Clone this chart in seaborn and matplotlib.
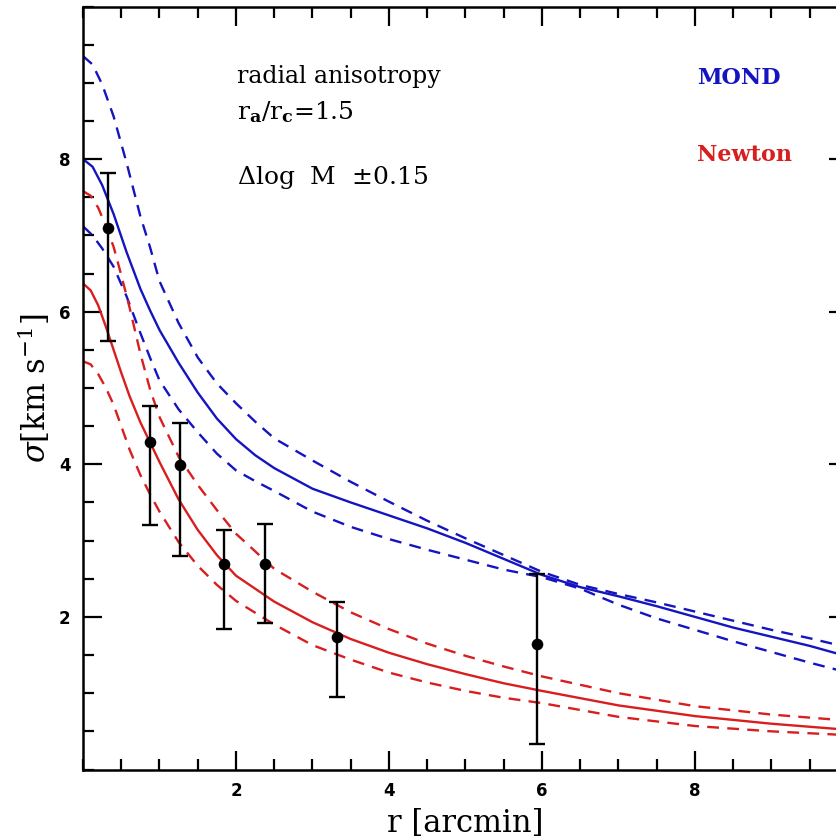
import numpy as np
import pandas as pd
import matplotlib
matplotlib.use("Agg")
import matplotlib.pyplot as plt
import seaborn as sns
from matplotlib.ticker import MultipleLocator, FixedLocator

# ---- data ----
obs_r = [0.33, 0.88, 1.27, 1.84, 2.38, 3.32, 5.94]
obs_sigma = [7.10, 4.29, 3.99, 2.69, 2.69, 1.74, 1.65]
obs_err_lo = [1.49, 1.08, 1.19, 0.85, 0.77, 0.79, 1.32]
obs_err_hi = [0.72, 0.48, 0.55, 0.45, 0.53, 0.45, 0.91]

mond_r = [0.0, 0.125, 0.25, 0.4, 0.57, 0.75, 0.875, 1.0, 1.25, 1.5, 1.75, 2.0, 2.25, 2.5, 3.0,
          3.5, 4.0, 4.5, 5.0, 5.5, 6.0, 6.5, 7.0, 7.5, 8.0, 8.5, 9.0, 9.5, 10.0]
mond_mid = [8.00, 7.90, 7.66, 7.28, 6.78, 6.30, 6.02, 5.76, 5.33, 4.94, 4.60, 4.33, 4.12, 3.95,
            3.68, 3.50, 3.33, 3.16, 2.97, 2.76, 2.55, 2.39, 2.27, 2.14, 2.00, 1.86, 1.74, 1.62, 1.48]
mond_hi = [9.35, 9.24, 8.98, 8.56, 7.95, 7.25, 6.85, 6.40, 5.85, 5.40, 5.06, 4.80, 4.56, 4.34,
           4.05, 3.77, 3.51, 3.26, 3.03, 2.81, 2.59, 2.42, 2.30, 2.19, 2.07, 1.95, 1.83, 1.72, 1.60]
mond_lo = [7.12, 7.00, 6.83, 6.59, 6.20, 5.72, 5.40, 5.10, 4.72, 4.42, 4.14, 3.92, 3.78, 3.65,
           3.38, 3.18, 3.02, 2.88, 2.75, 2.62, 2.52, 2.37, 2.16, 1.98, 1.83, 1.68, 1.54, 1.40, 1.27]

newt_r = [0.0, 0.1, 0.2, 0.3, 0.4, 0.5, 0.61, 0.75, 0.88, 1.0, 1.25, 1.5, 1.75, 2.0, 2.5, 3.0,
          3.5, 4.0, 4.5, 5.0, 5.5, 6.0, 7.0, 8.0, 9.0, 10.0]
newt_mid = [6.37, 6.28, 6.08, 5.80, 5.50, 5.20, 4.89, 4.55, 4.28, 4.03, 3.54, 3.14, 2.81, 2.54,
            2.20, 1.93, 1.71, 1.53, 1.38, 1.25, 1.13, 1.03, 0.84, 0.70, 0.60, 0.52]
newt_hi = [7.58, 7.52, 7.36, 7.12, 6.85, 6.48, 6.05, 5.45, 4.97, 4.62, 4.10, 3.73, 3.40, 3.09,
           2.63, 2.33, 2.06, 1.84, 1.65, 1.49, 1.35, 1.22, 1.00, 0.83, 0.72, 0.64]
newt_lo = [5.35, 5.31, 5.18, 5.00, 4.78, 4.50, 4.19, 3.86, 3.60, 3.38, 2.98, 2.67, 2.42, 2.21,
           1.90, 1.63, 1.44, 1.27, 1.14, 1.03, 0.94, 0.87, 0.69, 0.57, 0.50, 0.45]

BLUE = "#1414c0"
RED = "#d81e1e"

sns.set_theme(style="ticks")
plt.rcParams["font.family"] = ["DejaVu Serif"]
plt.rcParams["mathtext.fontset"] = "dejavuserif"
plt.rcParams["text.color"] = "black"
plt.rcParams["axes.labelcolor"] = "black"
plt.rcParams["xtick.color"] = "black"
plt.rcParams["ytick.color"] = "black"

W, H = 837, 840
fig = plt.figure(figsize=(W / 100, H / 100), dpi=100)
# axes extend past the right edge of the picture, as in the reference
left, right, top, bottom = 83, 848, 6.5, 769.5
ax = fig.add_axes([left / W, 1 - bottom / H, (right - left) / W, (bottom - top) / H])

lw = 1.7
dash = (0, (5, 3.5))
for xs, ys, col, ls in [
    (mond_r, mond_mid, BLUE, "-"), (mond_r, mond_hi, BLUE, dash), (mond_r, mond_lo, BLUE, dash),
    (newt_r, newt_mid, RED, "-"), (newt_r, newt_hi, RED, dash), (newt_r, newt_lo, RED, dash),
]:
    sns.lineplot(x=xs, y=ys, ax=ax, color=col, linewidth=lw, linestyle=ls, estimator=None)

ax.errorbar(obs_r, obs_sigma, yerr=[obs_err_lo, obs_err_hi], fmt="none", ecolor="black",
            elinewidth=1.7, capsize=5.5, capthick=1.7, zorder=4)
sns.scatterplot(x=obs_r, y=obs_sigma, ax=ax, color="black", s=70, edgecolor="black",
                linewidth=0, zorder=5)

ax.set_xlim(0, 10)
ax.set_ylim(0, 10)
ax.xaxis.set_major_locator(FixedLocator([2, 4, 6, 8]))
ax.yaxis.set_major_locator(FixedLocator([2, 4, 6, 8]))
ax.xaxis.set_minor_locator(MultipleLocator(0.5))
ax.yaxis.set_minor_locator(MultipleLocator(0.5))
ax.tick_params(which="both", direction="in", top=True, right=True, color="black", width=1.6)
ax.tick_params(which="major", length=14, labelsize=12, pad=9, labelcolor="black")
ax.tick_params(which="minor", length=8)
for lab in ax.get_xticklabels() + ax.get_yticklabels():
    lab.set_fontweight("bold")
    lab.set_family("DejaVu Sans")
for sp in ax.spines.values():
    sp.set_linewidth(1.8)
    sp.set_color("black")

ax.set_xlabel("r [arcmin]", fontsize=22, labelpad=6, color="black")
ax.set_ylabel(r"$\sigma$[km s$^{-1}$]", fontsize=22, labelpad=4, color="black")

ax.text(2.01, 9.0, "radial anisotropy", fontsize=17, va="baseline", ha="left")
ax.text(2.01, 8.52, r"r$_\mathbf{a}$/r$_\mathbf{c}$=1.5", fontsize=18, va="baseline", ha="left")
ax.text(2.01, 7.67, r"$\Delta$log  M  $\pm$0.15", fontsize=18, va="baseline", ha="left")
ax.text(8.03, 8.98, "MOND", fontsize=16, va="baseline", ha="left", color=BLUE, fontweight="bold")
ax.text(8.03, 7.97, "Newton", fontsize=16, va="baseline", ha="left", color=RED, fontweight="bold")

fig.savefig("out.png", dpi=100)
